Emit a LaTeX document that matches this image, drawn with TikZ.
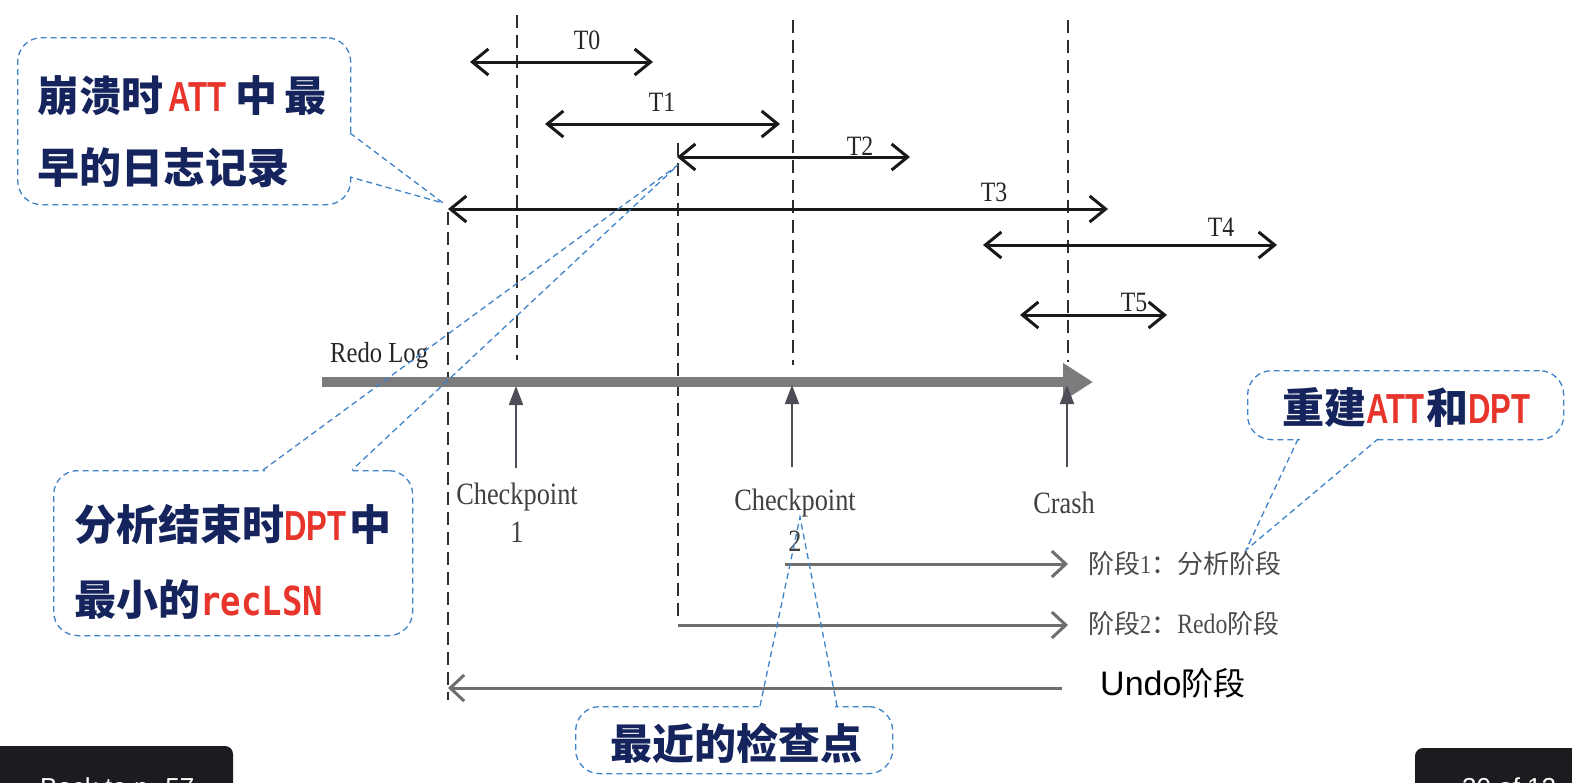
\documentclass[tikz,border=0pt]{standalone}
\usepackage{fontspec}
\setmainfont{Liberation Serif}
\newfontfamily\cjk{Noto Sans CJK SC}
\newfontfamily\cond{Liberation Sans}[FakeStretch=0.74]
\newfontfamily\monob{DejaVu Sans Mono}[FakeStretch=0.85]
\newfontfamily\song{Liberation Serif}[FakeStretch=0.85]
\newfontfamily\sans{Liberation Sans}
\usetikzlibrary{arrows.meta}
\definecolor{navy}{HTML}{15245C}
\definecolor{hot}{HTML}{E8352B}
\definecolor{cblue}{HTML}{3F83C8}
\definecolor{logray}{HTML}{7C7C7C}
\definecolor{upgray}{HTML}{4D4D58}
\definecolor{phgray}{HTML}{6E6E6E}
\definecolor{boxblack}{HTML}{1B1B20}
\begin{document}
\begin{tikzpicture}[x=1pt,y=-1pt,
  vdash/.style={line width=2.6pt, draw=black!82, dash pattern=on 13pt off 7pt},
  txarrow/.style={line width=3pt, draw=black!90, {Straight Barb[length=16pt,width=26pt]}-{Straight Barb[length=16pt,width=26pt]}},
  tlabel/.style={font=\song\fontsize{28}{30}\selectfont, inner sep=0pt, text=black!85},
  redo/.style={line width=10pt, draw=logray, -{Triangle[length=30pt,width=36pt]}},
  uparrow/.style={line width=2pt, draw=upgray, -{Triangle[length=19pt,width=14pt]}},
  phase/.style={line width=3pt, draw=phgray, -{Straight Barb[length=14pt,width=26pt]}},
  dlabel/.style={font=\song\fontsize{31}{36}\selectfont, inner sep=0pt, text=black!75, align=center},
  phlabel/.style={font=\song\fontsize{26}{30}\selectfont, inner sep=0pt, text=black!70, anchor=west},
  callbox/.style={draw=cblue, line width=1.3pt, dash pattern=on 6pt off 4pt, fill=white, rounded corners=24pt, anchor=north west, inner sep=0pt},
  calltail/.style={draw=cblue, line width=1.3pt, dash pattern=on 6pt off 4pt},
  ctext/.style={font=\cjk\bfseries\fontsize{42}{48}\selectfont, text=navy, inner sep=0pt, anchor=west},
  blackbox/.style={fill=boxblack, rounded corners=8pt},
  boxtext/.style={font=\sans\fontsize{26}{30}\selectfont, text=white, inner sep=0pt, anchor=base west}
]
\clip (0,0) rectangle (1572,782);
\fill[white] (0,0) rectangle (1572,782);

% dashed verticals
\coordinate (d0t) at (448,212); \coordinate (d0b) at (448,700);
\coordinate (d1t) at (517,15);  \coordinate (d1b) at (517,360);
\coordinate (d2t) at (678,143); \coordinate (d2b) at (678,620);
\coordinate (d3t) at (793,20);  \coordinate (d3b) at (793,365);
\coordinate (d4t) at (1068,20); \coordinate (d4b) at (1068,362);
\draw[vdash] (d0t) -- (d0b);
\draw[vdash] (d1t) -- (d1b);
\draw[vdash] (d2t) -- (d2b);
\draw[vdash] (d3t) -- (d3b);
\draw[vdash] (d4t) -- (d4b);

% transactions
\coordinate (t0a) at (470,62);  \coordinate (t0b) at (653,62);
\coordinate (t1a) at (545,124); \coordinate (t1b) at (780,124);
\coordinate (t2a) at (677,157); \coordinate (t2b) at (910,157);
\coordinate (t3a) at (448,209); \coordinate (t3b) at (1108,209);
\coordinate (t4a) at (983,245); \coordinate (t4b) at (1277,245);
\coordinate (t5a) at (1020,315);\coordinate (t5b) at (1167,315);
\draw[txarrow] (t0a) -- (t0b);
\draw[txarrow] (t1a) -- (t1b);
\draw[txarrow] (t2a) -- (t2b);
\draw[txarrow] (t3a) -- (t3b);
\draw[txarrow] (t4a) -- (t4b);
\draw[txarrow] (t5a) -- (t5b);
\node[tlabel] (lt0) at (587,40) {T0};
\node[tlabel] (lt1) at (662,102) {T1};
\node[tlabel] (lt2) at (860,146) {T2};
\node[tlabel] (lt3) at (994,192) {T3};
\node[tlabel] (lt4) at (1221,227) {T4};
\node[tlabel] (lt5) at (1134,302) {T5};

% redo log
\coordinate (r0) at (322,382); \coordinate (r1) at (1093,382);
\draw[redo] (r0) -- (r1);
\node[font=\song\fontsize{29}{32}\selectfont, inner sep=0pt, text=black!85, anchor=west] (redolbl) at (330,356) {Redo Log};

% up arrows
\coordinate (u1a) at (516,468); \coordinate (u1b) at (516,386);
\coordinate (u2a) at (792,467); \coordinate (u2b) at (792,385);
\coordinate (u3a) at (1067,467); \coordinate (u3b) at (1067,385);
\draw[uparrow] (u1a) -- (u1b);
\draw[uparrow] (u2a) -- (u2b);
\draw[uparrow] (u3a) -- (u3b);

\node[dlabel] (cp1) at (517,497) {Checkpoint};
\node[dlabel] (cp1n) at (517,532) {1};
\node[dlabel] (cp2) at (795,503) {Checkpoint};
\node[dlabel] (cp2n) at (795,541) {2};
\node[dlabel] (crash) at (1064,503) {Crash};

% phases
\coordinate (p1a) at (785,564); \coordinate (p1b) at (1068,564);
\coordinate (p2a) at (678,625); \coordinate (p2b) at (1068,625);
\coordinate (p3a) at (1062,688); \coordinate (p3b) at (448,688);
\draw[phase] (p1a) -- (p1b);
\draw[phase] (p2a) -- (p2b);
\draw[phase] (p3a) -- (p3b);
\node[phlabel] (ph1) at (1088,564) {{\cjk 阶段}1{\cjk ：分析阶段}};
\node[phlabel] (ph2) at (1088,624) {{\cjk 阶段}2{\cjk ：}{\fontsize{28}{30}\selectfont Redo}{\cjk 阶段}};
\node[font=\sans\fontsize{34}{38}\selectfont, inner sep=0pt, anchor=west, text=black] (ph3) at (1100,683) {Undo{\cjk\fontsize{32}{36}\selectfont 阶段}};

% callout 1
\node[callbox, minimum width=333pt, minimum height=167pt] (c1) at (17,37) {};
\coordinate (c1b1) at (350,133); \coordinate (c1b2) at (350,177); \coordinate (c1tip) at (443,203);
\draw[white, line width=3pt] (350,135) -- (350,175);
\draw[calltail] (c1b1) -- (c1tip) -- (c1b2);
\node[ctext] (c1l1) at (37,96) {崩溃时\hspace{5pt}{\cond\color{hot}ATT}\hspace{9pt}中\hspace{7pt}最};
\node[ctext] (c1l2) at (37,168) {早的日志记录};

% callout 2
\node[callbox, minimum width=359pt, minimum height=165pt] (c2) at (53,470) {};
\coordinate (c2b1) at (263,470); \coordinate (c2b2) at (352,470); \coordinate (c2tip) at (678,165);
\draw[white, line width=3pt] (265,470) -- (350,470);
\draw[calltail] (c2b1) -- (c2tip) -- (c2b2);
\node[ctext] (c2l1) at (74,524) {分析结束时{\cond\color{hot}DPT}\hspace{3pt}中};
\node[ctext] (c2l2) at (74,600) {最小的{\monob\fontsize{40}{48}\selectfont\color{hot}recLSN}};

% callout 3
\node[callbox, minimum width=316pt, minimum height=69pt] (c3) at (1247,370) {};
\coordinate (c3b1) at (1298,439); \coordinate (c3b2) at (1378,439); \coordinate (c3tip) at (1246,550);
\draw[white, line width=3pt] (1300,439) -- (1376,439);
\draw[calltail] (c3b1) -- (c3tip) -- (c3b2);
\node[ctext] (c3l1) at (1282,407) {重建{\cond\color{hot}ATT}\hspace{2pt}和{\cond\color{hot}DPT}};

% callout 4
\node[callbox, minimum width=317pt, minimum height=67pt] (c4) at (575,706) {};
\coordinate (c4b1) at (760,706); \coordinate (c4b2) at (837,706); \coordinate (c4tip) at (800,517);
\draw[white, line width=3pt] (762,706) -- (835,706);
\draw[calltail] (c4b1) -- (c4tip) -- (c4b2);
\node[ctext] (c4l1) at (610,743) {最近的检查点};

% black boxes at the bottom
\fill[blackbox] (-20,746) rectangle (233,820);
\fill[blackbox] (1415,748) rectangle (1600,820);
\node[boxtext] (bt1) at (2,796) {‹};
\node[boxtext] (bt2) at (40,796) {Back to p. 57};
\node[boxtext] (bt3) at (1462,796) {30 of 12};
\end{tikzpicture}
\end{document}
